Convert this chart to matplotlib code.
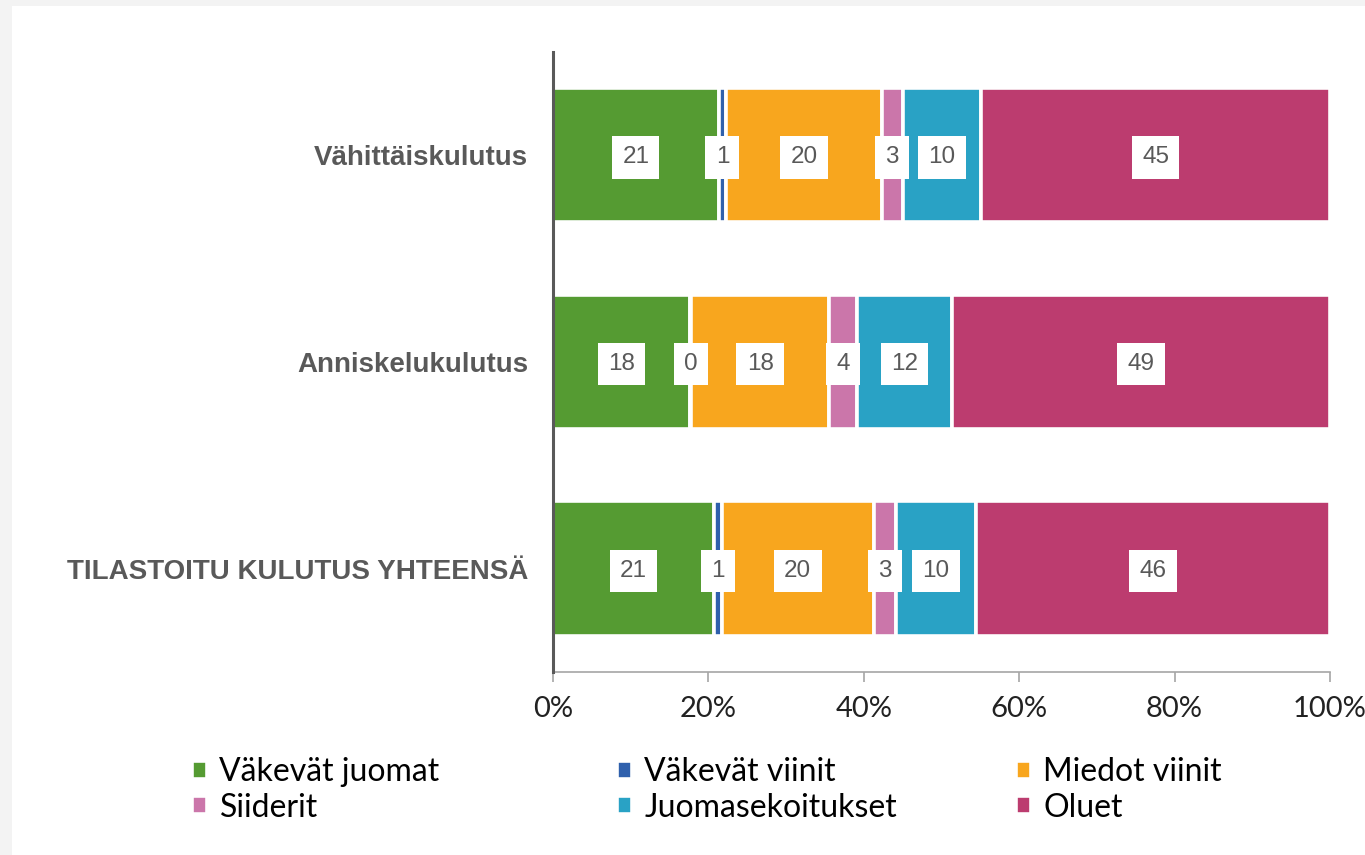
import numpy as np
import matplotlib.pyplot as plt
from matplotlib.patches import Rectangle

# ── Data ────────────────────────────────────────────────────────────────
categories = ["Vähittäiskulutus", "Anniskelukulutus", "TILASTOITU KULUTUS YHTEENSÄ"]
series_names = ["Väkevät juomat", "Väkevät viinit", "Miedot viinit",
                "Siiderit", "Juomasekoitukset", "Oluet"]

vakevat_juomat = [21.3, 17.6, 20.7]
vakevat_viinit = [1.0, 0.2, 1.0]
miedot_viinit = [20.0, 17.7, 19.6]
siiderit = [2.7, 3.6, 2.9]
juomasekoitukset = [10.1, 12.3, 10.2]
oluet = [44.9, 48.6, 45.6]

colors = ["#559B32", "#2F60AC", "#F8A61E", "#CB76AA", "#29A2C5", "#BC3C6F"]

x_ticks = [0, 20, 40, 60, 80, 100]
x_ticklabels = ["0%", "20%", "40%", "60%", "80%", "100%"]

series = [vakevat_juomat, vakevat_viinit, miedot_viinit,
          siiderit, juomasekoitukset, oluet]

W, H = 1365, 855
fig = plt.figure(figsize=(W / 100, H / 100), dpi=100)
fig.patch.set_facecolor("#F3F3F3")
# white panel (slide area)
fig.add_artist(Rectangle((12 / W, 0), 1, 1 - 6 / H, transform=fig.transFigure,
                         facecolor="white", edgecolor="none", zorder=0))

ax = fig.add_axes([553 / W, 183 / H, 777 / W, 620 / H])
ax.set_facecolor("none")

y = np.arange(len(categories))
left = np.zeros(len(categories))
bars = []
for vals, name, col in zip(series, series_names, colors):
    vals = np.array(vals)
    b = ax.barh(y, vals, left=left, height=0.65, color=col, label=name,
                edgecolor="white", linewidth=2.6, zorder=2)
    bars.append(b)
    for yi, (l, v) in enumerate(zip(left, vals)):
        ax.text(l + v / 2, yi + 0.01, f"{v:.0f}", ha="center", va="center",
                fontsize=17.5, color="#595959", family="Liberation Sans",
                bbox=dict(boxstyle="square,pad=0.42", fc="white", ec="none"),
                zorder=4)
    left += vals

ax.set_xlim(0, 100)
ax.set_ylim(len(categories) - 0.5, -0.5)

ax.set_yticks(y)
ax.set_yticklabels(categories, fontsize=20, fontweight="bold",
                   color="#595959", family="Liberation Sans")
ax.tick_params(axis="y", length=0, pad=18)

ax.set_xticks(x_ticks)
ax.set_xticklabels(x_ticklabels, fontsize=21, color="#222222", family="Lato")
ax.tick_params(axis="x", length=7, width=1.2, color="#A6A6A6", pad=10)

for s in ["top", "right"]:
    ax.spines[s].set_visible(False)
ax.spines["left"].set_color("#595959")
ax.spines["left"].set_linewidth(2.2)
ax.spines["left"].set_zorder(5)
ax.spines["bottom"].set_color("#A6A6A6")
ax.spines["bottom"].set_linewidth(1.2)

# ── Legend: three columns, two rows ─────────────────────────────────────
col_x = [192, 617, 1016]
for ci, cx in enumerate(col_x):
    handles = [bars[ci][0], bars[ci + 3][0]]
    labels = [series_names[ci], series_names[ci + 3]]
    fig.legend(handles, labels, loc="upper left",
               bbox_to_anchor=(cx / W, 1 - 757 / H), frameon=False,
               prop={"family": "Lato", "size": 23}, handlelength=0.48,
               handleheight=0.48, handletextpad=0.38, labelspacing=0.18,
               borderpad=0, borderaxespad=0)

fig.savefig("out.png", dpi=100, facecolor=fig.get_facecolor())
